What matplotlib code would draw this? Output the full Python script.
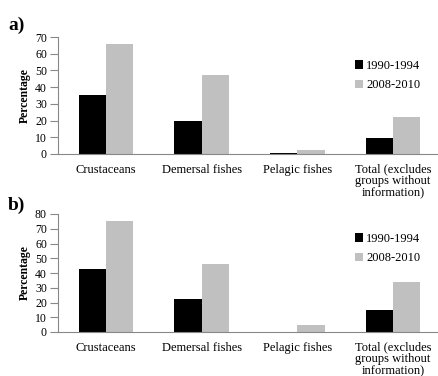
import matplotlib.pyplot as plt
import numpy as np

categories = ["Crustaceans", "Demersal fishes", "Pelagic fishes",
              "Total (excludes\ngroups without\ninformation)"]
series_names = ["1990-1994", "2008-2010"]
a_1990 = [35, 20, 0.8, 9.4]
a_2008 = [66, 47, 2.4, 22]
b_1990 = [43, 22.3, 0, 15]
b_2008 = [75.3, 46, 5, 34]
a_ticks = [0, 10, 20, 30, 40, 50, 60, 70]
b_ticks = [0, 10, 20, 30, 40, 50, 60, 70, 80]

plt.rcParams['font.family'] = ['Liberation Serif', 'DejaVu Serif']

W, H = 439, 376
fig = plt.figure(figsize=(W/100, H/100), dpi=100)

colors = ["#000000", "#c0c0c0"]
bw = 0.285

def panel(rect, v1, v2, ticks, leg_anchor):
    ax = fig.add_axes(rect)
    x = np.arange(len(categories))
    ax.bar(x - bw/2, v1, bw, color=colors[0], label=series_names[0])
    ax.bar(x + bw/2, v2, bw, color=colors[1], label=series_names[1])
    ax.set_xlim(-0.5, len(categories) - 0.5)
    ax.set_ylim(0, ticks[-1])
    ax.set_yticks(ticks)
    ax.set_xticks(x)
    ax.set_xticklabels(categories, fontsize=9, linespacing=0.95)
    ax.tick_params(axis='x', length=0, pad=7)
    ax.tick_params(axis='y', labelsize=8.5, length=6, color='#888888', pad=2)
    for s in ['top', 'right']:
        ax.spines[s].set_visible(False)
    for s in ['left', 'bottom']:
        ax.spines[s].set_color('#888888')
        ax.spines[s].set_linewidth(0.8)
    ax.set_ylabel("Percentage", fontsize=8.5, fontweight='bold', labelpad=3)
    ax.legend(loc='upper left', bbox_to_anchor=leg_anchor, frameon=False,
              fontsize=9, handlelength=0.65, handleheight=0.65,
              handletextpad=0.25, labelspacing=0.6, borderaxespad=0,
              borderpad=0)
    return ax

# panel a: axes x 58..441, y 37..154
panel([58/W, 1 - 154/H, 383/W, 117/H], a_1990, a_2008, a_ticks, (0.775, 0.805))
panel([58/W, 1 - 332/H, 383/W, 118/H], b_1990, b_2008, b_ticks, (0.775, 0.84))

fig.text(8/W, 1 - 25/H, "a)", fontsize=14, fontweight='bold', va='center')
fig.text(8/W, 1 - 205/H, "b)", fontsize=14, fontweight='bold', va='center')

fig.savefig("out.png", dpi=100)
